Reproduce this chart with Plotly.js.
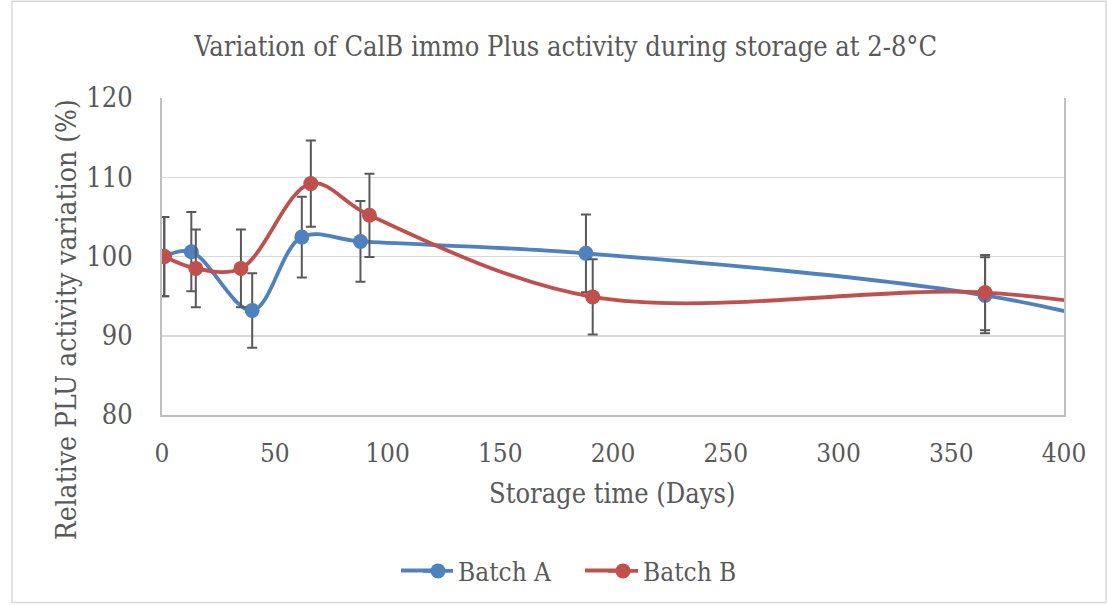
<!DOCTYPE html>
<html>
<head>
<meta charset="utf-8">
<script src="https://cdn.plot.ly/plotly-3.0.1.min.js"></script>
<style>
html,body{margin:0;padding:0;background:#fff;}
#chart{width:1107px;height:605px;}
</style>
</head>
<body>
<div id="chart"></div>
<script>
// Data
var daysA = [1, 13, 40, 62, 88, 188, 365, 450];
var activityA = [100, 100.6, 93.2, 102.45, 101.9, 100.4, 95.1, 89.6];
var errorA = [5, 5, 4.7, 5.1, 5.1, 4.9, 4.8, 4.8];

var daysB = [1, 15, 35, 66, 92, 191, 365, 450];
var activityB = [100, 98.5, 98.5, 109.2, 105.2, 94.9, 95.45, 92.3];
var errorB = [5, 4.9, 4.9, 5.45, 5.25, 4.75, 4.75, 4.8];

var seriesNames = ["Batch A", "Batch B"];
var seriesColors = ["#4F81BD", "#C0504D"];
var xTicks = [0, 50, 100, 150, 200, 250, 300, 350, 400];
var yTicks = [80, 90, 100, 110, 120];

var FONT = "DejaVu Serif Condensed, Liberation Serif, serif";
var TXT = "#595959";

function trace(x, y, e, name, color) {
  return {
    x: x, y: y, name: name, type: "scatter", mode: "lines+markers",
    line: {color: color, width: 3.8, shape: "spline", smoothing: 1},
    marker: {color: color, size: 15},
    error_y: {type: "data", array: e, visible: true, color: "#595959", thickness: 2, width: 5},
    cliponaxis: true
  };
}

var data = [
  trace(daysA, activityA, errorA, seriesNames[0], seriesColors[0]),
  trace(daysB, activityB, errorB, seriesNames[1], seriesColors[1])
];

// helpers for pixel -> paper conversion (plot area: x 162..1064, y 98..416)
function px(x) { return (x - 162) / 902; }
function py(y) { return (416 - y) / 318; }

var layout = {
  width: 1107, height: 605,
  margin: {l: 162, r: 43, t: 98, b: 189},
  paper_bgcolor: "#fff", plot_bgcolor: "#fff",
  font: {family: FONT, color: TXT, size: 26},
  title: {
    text: "Variation of CalB immo Plus activity during storage at 2-8°C",
    font: {family: FONT, size: 27, color: TXT},
    x: 0.511, xanchor: "center", xref: "container",
    y: 1 - 47 / 605, yanchor: "middle", yref: "container"
  },
  xaxis: {
    range: [0, 400], tickvals: xTicks, ticktext: xTicks.map(String),
    showgrid: false, zeroline: false, showline: true, linecolor: "#bfbfbf", linewidth: 2,
    ticks: "", ticklabelstandoff: 14,
    tickfont: {family: FONT, size: 26, color: TXT}
  },
  yaxis: {
    range: [80, 120], tickvals: yTicks, ticktext: yTicks.map(String),
    showgrid: true, gridcolor: "#d9d9d9", gridwidth: 1.5, zeroline: false,
    showline: true, linecolor: "#bfbfbf", linewidth: 2, mirror: true,
    ticks: "", ticklabelstandoff: 22,
    tickfont: {family: FONT, size: 27, color: TXT}
  },
  annotations: [
    {text: "Storage time (Days)", xref: "paper", yref: "paper",
     x: px(612), y: py(495), xanchor: "center", yanchor: "middle",
     showarrow: false, font: {family: FONT, size: 27, color: TXT}},
    {text: "Relative PLU activity variation (%)", xref: "paper", yref: "paper", textangle: -90,
     x: px(66), y: py(321), xanchor: "center", yanchor: "middle",
     showarrow: false, font: {family: FONT, size: 28, color: TXT}}
  ],
  showlegend: true,
  legend: {
    orientation: "h", x: px(603), xanchor: "center", y: py(571), yanchor: "middle",
    font: {family: FONT, size: 26, color: TXT}, traceorder: "normal",
    entrywidth: 140, entrywidthmode: "pixels", bgcolor: "rgba(0,0,0,0)"
  },
  shapes: [
    {type: "rect", xref: "paper", yref: "paper", layer: "below",
     x0: px(12), x1: px(1106), y0: py(604), y1: py(1),
     line: {color: "#d9d9d9", width: 1.5}, fillcolor: "rgba(0,0,0,0)"},
    // extend the legend swatch lines to Excel-like length
    {type: "line", xref: "paper", yref: "paper", x0: px(401), x1: px(442), y0: py(572), y1: py(572),
     line: {color: seriesColors[0], width: 3.8}},
    {type: "line", xref: "paper", yref: "paper", x0: px(585), x1: px(626), y0: py(572), y1: py(572),
     line: {color: seriesColors[1], width: 3.8}}
  ]
};

Plotly.newPlot("chart", data, layout, {displayModeBar: false, staticPlot: true});
</script>
</body>
</html>
